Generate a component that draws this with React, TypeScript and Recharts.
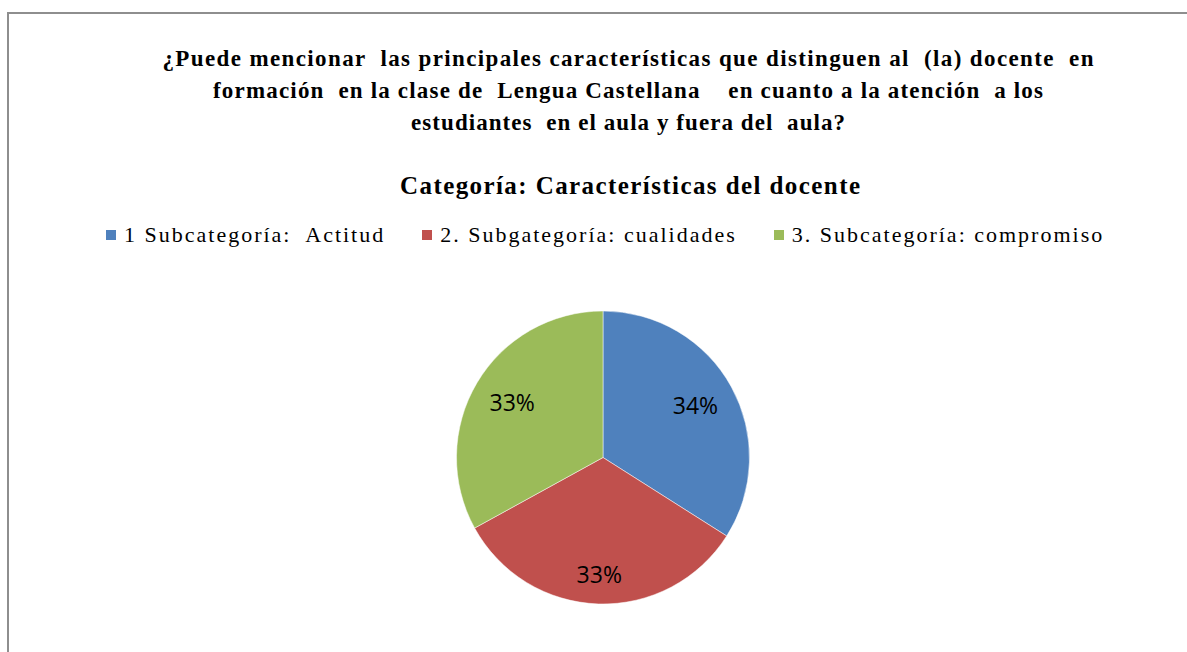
import React from 'react';
import { PieChart, Pie, Cell, Legend } from 'recharts';

const categories = ['1 Subcategoría:  Actitud', '2. Subgategoría: cualidades', '3. Subcategoría: compromiso'];
const percentages = [34, 33, 33];
const sliceColors = ['#4F81BD', '#C0504D', '#9BBB59'];
const titleLines = [
  '¿Puede mencionar  las principales características que distinguen al  (la) docente  en',
  'formación  en la clase de  Lengua Castellana    en cuanto a la atención  a los',
  'estudiantes  en el aula y fuera del  aula?',
];
const subtitle = 'Categoría: Características del docente';

const data = categories.map((name, i) => ({ name, value: percentages[i] }));

// no serif face in the sandbox, falls back to Liberation Sans
const SERIF = '"Liberation Serif", "Times New Roman", serif';
const RADIAN = Math.PI / 180;
// Excel's "best fit" puts the bottom label a bit further out
const labelRadius = [0.72, 0.81, 0.72];

function renderLabel(props: any) {
  const { cx, cy, midAngle, outerRadius, index, value } = props;
  const r = outerRadius * labelRadius[index];
  const x = cx + r * Math.cos(-midAngle * RADIAN);
  const y = cy + r * Math.sin(-midAngle * RADIAN);
  return (
    <text x={x} y={y - 2} textAnchor="middle" dominantBaseline="central" fontFamily="Open Sans, Noto Sans, sans-serif" fontSize={23} fill="#000">
      {value}%
    </text>
  );
}

function LegendContent(props: any) {
  const { payload } = props;
  return (
    <div style={{ display: 'flex', alignItems: 'center', fontFamily: SERIF, fontSize: 22, letterSpacing: 2, color: '#000', whiteSpace: 'pre' }}>
      {payload.map((p: any, i: number) => (
        <div key={i} style={{ display: 'flex', alignItems: 'center', marginRight: i < payload.length - 1 ? 37 : 0 }}>
          <span style={{ display: 'inline-block', width: 10, height: 10, background: p.color, marginRight: 8 }} />
          <span>{p.value}</span>
        </div>
      ))}
    </div>
  );
}

export default function App() {
  const titleWidths = [931, 830, 434];
  return (
    <div style={{ position: 'absolute', left: 0, top: 0, width: 1187, height: 652, overflow: 'hidden', background: '#fff' }}>
      <div style={{ position: 'absolute', left: 7, top: 12, width: 1300, height: 800, borderLeft: '2px solid #8e8e8e', borderTop: '2px solid #8e8e8e' }} />
      <div style={{ position: 'absolute', left: 0, top: 0 }}>
        <PieChart width={1187} height={652} margin={{ top: 0, right: 0, bottom: 0, left: 0 }}>
          {titleLines.map((line, i) => (
            <text key={i} x={628} y={66 + i * 32} textAnchor="middle" fontFamily={SERIF} fontWeight="bold" fontSize={23} fill="#000" textLength={titleWidths[i]} lengthAdjust="spacing" style={{ whiteSpace: 'pre' }}>
              {line}
            </text>
          ))}
          <text x={630} y={194} textAnchor="middle" fontFamily={SERIF} fontWeight="bold" fontSize={25} fill="#000" textLength={460} lengthAdjust="spacing">
            {subtitle}
          </text>
          <Legend verticalAlign="bottom" align="left" content={<LegendContent />} wrapperStyle={{ position: 'absolute', top: 222, left: 106, width: 1070, bottom: 'auto' }} />
          <Pie
            data={data}
            dataKey="value"
            nameKey="name"
            cx={603}
            cy={457.5}
            outerRadius={146.5}
            startAngle={90}
            endAngle={-270}
            stroke="#ffffff"
            strokeWidth={0.5}
            label={renderLabel}
            labelLine={false}
            isAnimationActive={false}
          >
            {data.map((d, i) => (
              <Cell key={d.name} fill={sliceColors[i]} />
            ))}
          </Pie>
        </PieChart>
      </div>
    </div>
  );
}
